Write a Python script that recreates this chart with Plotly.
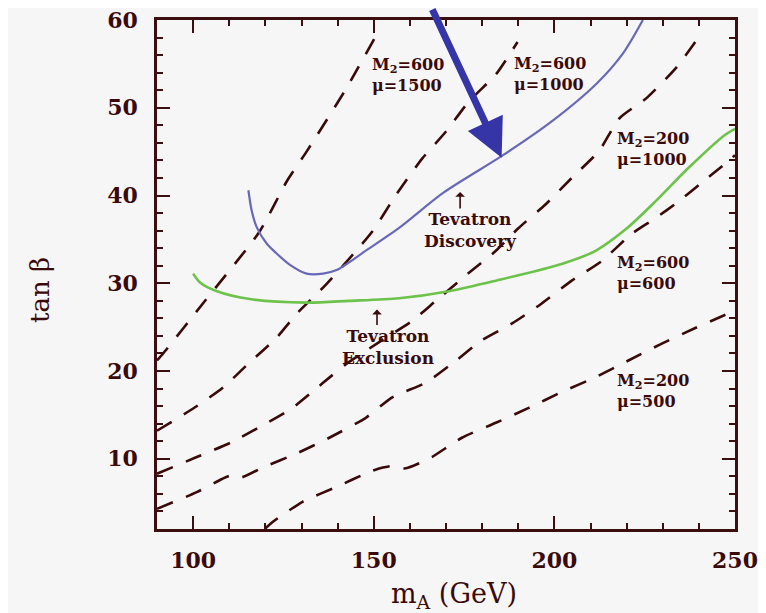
import plotly.graph_objects as go

# ---- data ----
mA_A = [90, 91.7, 102.7, 118.4, 125.9, 131.4, 142.4, 150.2]
tb_A = [21.2, 22.0, 27.7, 35.9, 41.6, 45.0, 52.2, 57.9]

mA_B = [90, 99.9, 108.2, 115.7, 123.1, 128.6, 136.9, 149.6, 156.2, 163.4, 170.0, 176.3, 183.8, 189.8]
tb_B = [13.2, 15.7, 18.1, 21.0, 23.8, 26.5, 29.9, 35.9, 40.1, 44.2, 47.3, 50.7, 53.8, 57.5]

mA_C = [90, 101.0, 110.7, 119.2, 127.5, 135.8, 142.4, 151.5, 160.6, 167.2, 175.5, 183.8, 190.1,
        197.6, 204.8, 212.4, 218.0, 225.5, 233.8, 239.7]
tb_C = [8.3, 10.2, 11.9, 13.8, 15.8, 18.6, 20.8, 23.3, 25.7, 28.0, 30.9, 33.7, 36.3,
        39.0, 42.0, 45.1, 48.8, 51.1, 54.6, 57.9]

mA_D = [90, 101.0, 108.0, 110.5, 113.5, 119.2, 128.6, 137.7, 147.9, 155.1, 164.5, 172.8, 179.9,
        188.2, 196.5, 204.8, 213.0, 221.3, 227.9, 234.3, 240.6, 247.2, 250]
tb_D = [4.3, 6.2, 7.7, 8.1, 7.9, 9.0, 10.6, 12.4, 14.7, 17.0, 18.7, 21.2, 23.5,
        25.4, 27.7, 30.3, 32.5, 35.6, 37.4, 39.3, 41.4, 43.6, 44.6]

mA_E = [119.8, 122.0, 130.3, 139.7, 148.8, 152.5, 155.5, 158.5, 161.0, 166.1, 174.4, 183.8,
        192.9, 202.0, 211.4, 220.5, 229.6, 239.0, 250]
tb_E = [2.0, 2.8, 5.1, 6.8, 8.5, 9.0, 9.2, 8.9, 9.2, 10.2, 12.4, 14.1,
        15.8, 17.6, 19.3, 21.2, 23.1, 24.9, 26.9]

mA_excl = [100.0, 101.9, 106.6, 115.7, 131.4, 143.2, 157.0, 170.8, 183.8, 202.0, 211.4,
           219.9, 227.9, 237.0, 247.2, 250]
tb_excl = [31.1, 30.1, 29.1, 28.2, 27.8, 28.0, 28.3, 29.1, 30.3, 32.2, 33.7,
           36.2, 39.3, 43.1, 46.9, 47.6]

mA_disc = [115.3, 116.2, 117.6, 120.4, 123.1, 126.8, 131.4, 136.0, 139.7, 148.1, 157.3,
           169.2, 185.8, 198.8, 211.8, 219.0, 224.5]
tb_disc = [40.6, 38.3, 36.4, 34.5, 33.4, 32.1, 31.1, 31.1, 31.5, 33.8, 36.4,
           40.3, 44.6, 48.3, 52.8, 56.2, 60.0]

curve_labels = ["M<sub>2</sub>=600<br>μ=1500", "M<sub>2</sub>=600<br>μ=1000",
                "M<sub>2</sub>=200<br>μ=1000", "M<sub>2</sub>=600<br>μ=600",
                "M<sub>2</sub>=200<br>μ=500"]
label_mA = [149.0, 188.3, 216.8, 216.8, 216.8]
label_tb = [53.7, 53.8, 45.3, 31.2, 17.7]

x_ticks = [100, 150, 200, 250]
y_ticks = [10, 20, 30, 40, 50, 60]

DARK = "#3a0a0a"
FRAME = "#3b0f0f"
BG = "#f6f6f6"

fig = go.Figure()
dash_style = "17px,14px"
for xs, ys in [(mA_A, tb_A), (mA_B, tb_B), (mA_C, tb_C), (mA_D, tb_D), (mA_E, tb_E)]:
    fig.add_trace(go.Scatter(x=xs, y=ys, mode="lines",
                             line=dict(color=DARK, width=2.6, dash=dash_style, shape="spline", smoothing=0.6),
                             showlegend=False, hoverinfo="skip"))

fig.add_trace(go.Scatter(x=mA_excl, y=tb_excl, mode="lines",
                         line=dict(color="#6cc24a", width=2.6, shape="spline", smoothing=0.8),
                         showlegend=False, hoverinfo="skip"))
fig.add_trace(go.Scatter(x=mA_disc, y=tb_disc, mode="lines",
                         line=dict(color="#6868b8", width=2.2, shape="spline", smoothing=0.8),
                         showlegend=False, hoverinfo="skip"))

label_font = dict(family="DejaVu Serif", size=16, color=DARK, weight="bold")
tev_font = dict(family="DejaVu Serif", size=17, color=DARK, weight="bold")
for txt, xv, yv in zip(curve_labels, label_mA, label_tb):
    fig.add_annotation(x=xv, y=yv, text=txt, showarrow=False, xanchor="left", yanchor="middle",
                       align="left", font=label_font)

fig.add_annotation(x=176.9, y=36.1, text="Tevatron<br>Discovery", showarrow=False,
                   xanchor="center", yanchor="middle", align="center", font=tev_font)
fig.add_annotation(x=153.9, y=22.7, text="Tevatron<br>Exclusion", showarrow=False,
                   xanchor="center", yanchor="middle", align="center", font=tev_font)

# small pointer arrows
fig.add_annotation(x=173.9, y=40.4, ax=0, ay=18, text="", showarrow=True, arrowhead=1,
                   arrowsize=1, arrowwidth=1.6, arrowcolor=DARK)
fig.add_annotation(x=150.9, y=27.0, ax=0, ay=17, text="", showarrow=True, arrowhead=1,
                   arrowsize=1, arrowwidth=1.6, arrowcolor=DARK)

# big blue arrow
fig.add_annotation(x=185.4, y=44.3, ax=-70, ay=-157, text="", showarrow=True, arrowhead=2,
                   arrowsize=1.1, arrowwidth=7, arrowcolor="#3535a8", standoff=0)

# axis titles
fig.add_annotation(xref="paper", yref="paper", x=-0.2024, y=0.4695, text="tan β", textangle=-90,
                   showarrow=False, xanchor="center", yanchor="middle",
                   font=dict(family="DejaVu Serif", size=26, color=DARK))
fig.add_annotation(xref="paper", yref="paper", x=0.5138, y=-0.131, text="m<sub>A</sub> (GeV)",
                   showarrow=False, xanchor="center", yanchor="middle",
                   font=dict(family="DejaVu Serif", size=27, color=DARK))

tick_font = dict(family="DejaVu Serif", size=22, color=DARK, weight="bold")
fig.update_xaxes(range=[90, 250], tickvals=x_ticks, ticks="inside", ticklen=13, tickwidth=2,
                 tickcolor=FRAME, showline=True, linewidth=2.5, linecolor=FRAME, mirror="ticks",
                 showgrid=False, zeroline=False, tickfont=tick_font, ticklabelstandoff=10,
                 automargin=False, ticklabeloverflow="allow",
                 minor=dict(ticks="inside", ticklen=6, tickwidth=2, tickcolor=FRAME, dtick=10,
                            tick0=90, showgrid=False))
fig.update_yaxes(range=[2, 60], tickvals=y_ticks, ticks="inside", ticklen=13, tickwidth=2,
                 tickcolor=FRAME, showline=True, linewidth=2.5, linecolor=FRAME, mirror="ticks",
                 showgrid=False, zeroline=False, tickfont=tick_font, ticklabelstandoff=12,
                 automargin=False, ticklabeloverflow="allow",
                 minor=dict(ticks="inside", ticklen=6, tickwidth=2, tickcolor=FRAME, dtick=2,
                            tick0=0, showgrid=False))

fig.update_layout(width=758, height=605, margin=dict(l=149, r=31, t=12, b=84),
                  paper_bgcolor=BG, plot_bgcolor=BG, showlegend=False)

fig.write_html("out.html")
